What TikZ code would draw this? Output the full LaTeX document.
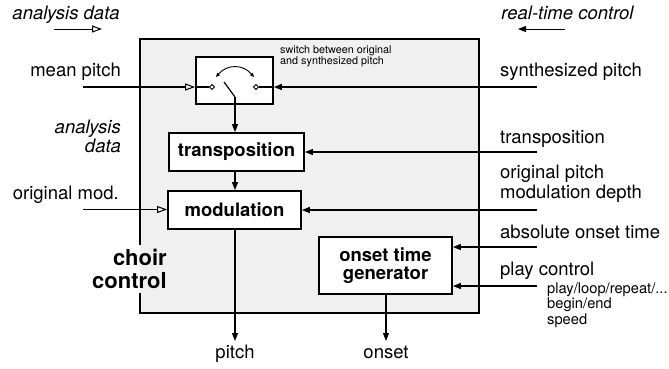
\documentclass[tikz,border=0pt]{standalone}
\usepackage{fontspec}
\setmainfont{TeX Gyre Heros}
\usetikzlibrary{arrows.meta,shapes.geometric}
\definecolor{boxgray}{HTML}{F0F0F0}
\tikzset{
  lab/.style={inner sep=0pt,font=\fontsize{18.5}{19.5}\selectfont},
  ilab/.style={lab,font=\fontsize{18.5}{19.5}\selectfont\itshape},
  smlab/.style={inner sep=0pt,font=\fontsize{10.8}{11}\selectfont,align=left},
  tinylab/.style={inner sep=0pt,font=\fontsize{14.7}{15.5}\selectfont,align=left},
  blk/.style={draw,line width=1.8pt,fill=white,inner sep=0pt,font=\fontsize{18.5}{18}\selectfont\bfseries,align=center},
  conn/.style={line width=1.2pt},
  fa/.style={-{Triangle[length=8pt,width=6pt]}},
  oa/.style={-{Triangle[open,length=10pt,width=7pt,line width=1pt]}},
  dia/.style={draw,diamond,line width=0.9pt,inner sep=0pt,minimum size=5.5pt,fill=white}
}
\begin{document}
\begin{tikzpicture}[x=1pt,y=-1pt]
\useasboundingbox (0,0) rectangle (669,368);
% big box
\fill[boxgray] (140,39) rectangle (479,313);
\draw[line width=1.8pt] (140,245) -- (140,39) -- (479,39) -- (479,313) -- (140,313) -- (140,293);
\node[anchor=base east,inner sep=0pt,font=\fontsize{22}{23}\selectfont\bfseries,align=right] (cc1) at (167,265) {choir};
\node[anchor=base east,inner sep=0pt,font=\fontsize{22}{23}\selectfont\bfseries,align=right] (cc2) at (167,288) {control};

% top legend
\node[ilab,anchor=base] (ad) at (66,19) {analysis data};
\coordinate (ada) at (54,29);
\coordinate (adb) at (102,29);
\draw[conn,line width=0.9pt,oa] (ada) -- (adb);
\node[ilab,anchor=base] (rt) at (567.5,19) {real-time control};
\coordinate (rta) at (565,29);
\coordinate (rtb) at (518,29);
\draw[conn,line width=0.9pt,fa] (rta) -- (rtb);

% blocks
\node[blk,minimum width=77pt,minimum height=47pt] (sw) at (234.5,80.5) {};
\node[blk,minimum width=135pt,minimum height=38pt] (tr) at (236.5,152) {transposition};
\node[blk,minimum width=133pt,minimum height=38pt] (mo) at (234.5,210) {modulation};
\node[blk,minimum width=133pt,minimum height=57pt] (on) at (385.5,265.5) {onset time\\generator};

% switch internals
\node[dia] (d1) at (212,87) {};
\node[dia] (d2) at (256,87) {};
\coordinate (lv1) at (224,82);
\coordinate (lv2) at (235,97);
\draw[conn] (lv1) -- (lv2);
\draw[line width=0.9pt,{Triangle[length=4pt,width=3.5pt]}-{Triangle[length=4pt,width=3.5pt]}] (216,77) .. controls (227,64) and (243,64) .. (254,77);
\node[smlab,anchor=base west] (swt) at (280,64) {switch between original\\and synthesized pitch};

% inputs left
\node[lab,anchor=base east] (mp) at (121,76) {mean pitch};
\coordinate (mpa) at (83,87);
\draw[conn,oa] (mpa) -- (sw.west |- mpa);
\draw[conn] (sw.west |- mpa) -- (d1.west);
\node[lab,align=right,anchor=base east,font=\fontsize{18.5}{19.5}\selectfont\itshape] (ad2) at (121,133) {analysis};
\node[lab,align=right,anchor=base east,font=\fontsize{18.5}{19.5}\selectfont\itshape] (ad3) at (121,152.5) {data};
\node[lab,anchor=base east] (om) at (119,199) {original mod.};
\coordinate (oma) at (83,209.5);
\draw[conn,oa] (oma) -- (mo.west |- oma);

% inputs right
\node[lab,anchor=base west] (sp) at (500,76) {synthesized pitch};
\coordinate (spa) at (537,87);
\draw[conn,fa] (spa) -- (sw.east |- spa);
\draw[conn] (sw.east |- spa) -- (d2.east);
\node[lab,anchor=base west] (tp) at (500,143) {transposition};
\coordinate (tpa) at (537,152);
\draw[conn,fa] (tpa) -- (tr.east |- tpa);
\node[lab,anchor=base west] (op1) at (500,178) {original pitch};
\node[lab,anchor=base west] (op2) at (500,198) {modulation depth};
\coordinate (opa) at (537,210);
\draw[conn,fa] (opa) -- (mo.east |- opa);
\node[lab,anchor=base west] (ao) at (500,238) {absolute onset time};
\coordinate (aoa) at (537,247);
\draw[conn,fa] (aoa) -- (on.east |- aoa);
\node[lab,anchor=base west] (pc) at (500,275) {play control};
\coordinate (pca) at (537,286);
\draw[conn,fa] (pca) -- (on.east |- pca);
\node[tinylab,anchor=base west] (pl1) at (547,293) {play/loop/repeat/...};
\node[tinylab,anchor=base west] (pl2) at (547,308.5) {begin/end};
\node[tinylab,anchor=base west] (pl3) at (547,324) {speed};

% internal flow
\draw[conn,fa] (lv2) -- (lv2 |- tr.north);
\draw[conn,fa] (tr.south -| lv2) -- (lv2 |- mo.north);

% outputs
\node[lab,anchor=base] (po) at (235,358) {pitch};
\node[lab,anchor=base] (oo) at (386,358) {onset};
\coordinate (poa) at (235,341);
\coordinate (ooa) at (386,341);
\draw[conn,fa] (mo.south -| poa) -- (poa);
\draw[conn,fa] (on.south -| ooa) -- (ooa);
\end{tikzpicture}
\end{document}
